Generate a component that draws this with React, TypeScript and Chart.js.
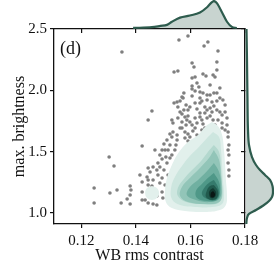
import React, { useEffect, useRef } from "react";
import { Chart, registerables } from "chart.js";
Chart.register(...registerables);

const FONT = "'Liberation Serif', 'DejaVu Serif', serif";
const INK = "#111111";

// Axis ticks
const xTicks = [0.12, 0.14, 0.16, 0.18];
const yTicks = [1.0, 1.5, 2.0, 2.5];
const xRange = [0.11, 0.18];
const yRange = [0.91, 2.5];

// Scatter: WB rms contrast vs max. brightness
const contrast = [
  0.1349, 0.1558, 0.1591, 0.1664, 0.165, 0.1701, 0.1697, 0.1606, 0.1613, 0.154,
  0.1554, 0.1697, 0.1646, 0.1657, 0.1683, 0.169, 0.1617, 0.1606, 0.1624, 0.1606,
  0.1606, 0.1617, 0.1635, 0.1646, 0.1686, 0.1697, 0.1576, 0.1569, 0.1606, 0.154,
  0.1551, 0.1562, 0.1573, 0.1635, 0.1642, 0.1708, 0.1719, 0.1679, 0.1617, 0.1459,
  0.1445, 0.1562, 0.1569, 0.1591, 0.1598, 0.1624, 0.1635, 0.1653, 0.1661, 0.1672,
  0.1679, 0.1686, 0.1697, 0.1708, 0.1716, 0.1532, 0.1536, 0.1554, 0.1569, 0.158,
  0.1587, 0.1598, 0.1606, 0.1617, 0.1624, 0.1642, 0.1646, 0.1661, 0.1672, 0.1683,
  0.1701, 0.1716, 0.1734, 0.1727, 0.1738, 0.1536, 0.1551, 0.1569, 0.158, 0.1591,
  0.1609, 0.1624, 0.1642, 0.1716, 0.1738, 0.1302, 0.132, 0.1247, 0.1379, 0.1382,
  0.1331, 0.1305, 0.1379, 0.1368, 0.1247, 0.1346, 0.1379, 0.1423, 0.1423, 0.1423,
  0.1423, 0.1514, 0.1532, 0.1551, 0.158, 0.1591, 0.1488, 0.1496, 0.1481, 0.1488,
  0.1514, 0.1525, 0.1532, 0.1445, 0.1452, 0.1463, 0.1441, 0.1445, 0.1481, 0.1496,
  0.1488, 0.1518, 0.1445, 0.1459, 0.1434, 0.1445, 0.1463, 0.1477, 0.1496, 0.1499,
  0.1477, 0.1503, 0.1507, 0.147, 0.1503, 0.1741, 0.1741, 0.1738, 0.1741, 0.1741,
  0.1738, 0.1525, 0.151, 0.1672, 0.1708, 0.1661, 0.1727, 0.1584, 0.1631, 0.1584,
  0.1653, 0.169, 0.1705, 0.1547, 0.1562, 0.1525, 0.1635, 0.1661, 0.1697, 0.1672,
  0.1591, 0.1635, 0.1653, 0.1554, 0.1576, 0.1727, 0.1734, 0.1598, 0.1617, 0.1496,
  0.1518, 0.1543, 0.1477, 0.1463, 0.1507, 0.1415,
];
const brightness = [
  2.312, 2.41, 2.443, 2.394, 2.361, 2.321, 2.231, 2.223, 2.19, 2.149,
  2.158, 2.166, 2.133, 2.117, 2.125, 2.109, 2.109, 2.1, 2.06, 2.035,
  2.011, 1.994, 1.986, 1.978, 1.978, 1.978, 1.978, 1.946, 1.954, 1.897,
  1.905, 1.913, 1.937, 1.937, 1.913, 1.937, 1.921, 1.905, 1.897, 1.831,
  1.758, 1.823, 1.807, 1.84, 1.864, 1.848, 1.815, 1.864, 1.84, 1.856,
  1.823, 1.872, 1.84, 1.823, 1.799, 1.758, 1.734, 1.774, 1.742, 1.782,
  1.758, 1.742, 1.717, 1.774, 1.734, 1.758, 1.725, 1.774, 1.791, 1.758,
  1.758, 1.734, 1.774, 1.676, 1.66, 1.66, 1.636, 1.693, 1.66, 1.644,
  1.668, 1.636, 1.676, 1.693, 1.619, 1.456, 1.383, 1.204, 1.22, 1.187,
  1.187, 1.163, 1.146, 1.114, 1.081, 1.081, 1.073, 1.252, 1.171, 1.106,
  1.546, 1.595, 1.619, 1.595, 1.611, 1.587, 1.473, 1.44, 1.407, 1.375,
  1.407, 1.448, 1.473, 1.367, 1.334, 1.375, 1.293, 1.269, 1.31, 1.285,
  1.244, 1.31, 1.228, 1.22, 1.106, 1.081, 1.073, 1.065, 1.171, 1.122,
  1.138, 1.562, 1.513, 1.513, 1.35, 1.554, 1.473, 1.407, 1.35, 1.301,
  1.513, 1.644, 1.456, 2.043, 2.019, 1.962, 1.88, 1.88, 2.027, 1.717,
  1.693, 1.717, 1.66, 1.554, 1.693, 1.554, 1.897, 1.921, 1.913, 1.962,
  1.791, 1.782, 1.815, 1.864, 1.84, 1.823, 1.717, 1.619, 1.693, 1.513,
  1.513, 1.513, 1.35, 1.269, 1.228, 1.31,
];

// KDE contour levels (outer -> inner), [contrast, brightness]
const kdeLevel1 = [
  [0.1679, 1.742], [0.1701, 1.709], [0.1716, 1.636], [0.1723, 1.513], [0.1727, 1.391],
  [0.173, 1.269], [0.1734, 1.146], [0.173, 1.065], [0.1708, 1.024], [0.1653, 1.008],
  [0.158, 1.016], [0.1532, 1.04], [0.151, 1.089], [0.1507, 1.187], [0.1514, 1.285],
  [0.1532, 1.391], [0.1558, 1.497], [0.1591, 1.579], [0.1628, 1.636], [0.1657, 1.709],
];
const kdeIsland = [
  [0.1459, 1.22], [0.1477, 1.204], [0.1485, 1.163], [0.1477, 1.122],
  [0.1459, 1.106], [0.1441, 1.122], [0.1434, 1.163], [0.1441, 1.204],
];
const kdeLevel2 = [
  [0.1683, 1.66], [0.1705, 1.619], [0.1712, 1.513], [0.1716, 1.391], [0.1719, 1.269],
  [0.1723, 1.146], [0.1716, 1.073], [0.1679, 1.049], [0.1617, 1.049], [0.1562, 1.065],
  [0.1532, 1.114], [0.1529, 1.204], [0.1543, 1.293], [0.1569, 1.383], [0.1598, 1.464],
  [0.1631, 1.538], [0.1661, 1.611],
];
const kdeLevel3 = [
  [0.1686, 1.554], [0.1705, 1.497], [0.1712, 1.367], [0.1716, 1.228], [0.1716, 1.122],
  [0.1694, 1.073], [0.1635, 1.073], [0.1584, 1.089], [0.1554, 1.138], [0.1554, 1.204],
  [0.1576, 1.277], [0.1606, 1.35], [0.1639, 1.424], [0.1664, 1.497],
];
const kdeLevel4 = [
  [0.1686, 1.513], [0.1705, 1.432], [0.1712, 1.31], [0.1716, 1.171], [0.1705, 1.089],
  [0.1653, 1.073], [0.1591, 1.089], [0.1562, 1.138], [0.1569, 1.212], [0.1598, 1.285],
  [0.1635, 1.367], [0.1668, 1.448],
];
const kdeLevel5 = [
  [0.1686, 1.407], [0.1705, 1.334], [0.1712, 1.228], [0.1708, 1.122], [0.1672, 1.089],
  [0.162, 1.106], [0.1587, 1.146], [0.1598, 1.212], [0.1628, 1.269], [0.1661, 1.342],
];
const kdeLevel6 = [
  [0.1686, 1.326], [0.1705, 1.252], [0.1708, 1.163], [0.1697, 1.106], [0.1661, 1.098],
  [0.1624, 1.122], [0.162, 1.179], [0.1642, 1.236], [0.1668, 1.293],
];
const kdeLevel7 = [
  [0.1686, 1.269], [0.1701, 1.212], [0.1705, 1.146], [0.169, 1.106], [0.1661, 1.114],
  [0.1642, 1.155], [0.1653, 1.212], [0.1672, 1.252],
];
const kdeLevel8 = [
  [0.1686, 1.228], [0.1701, 1.179], [0.1697, 1.122], [0.1679, 1.106], [0.1657, 1.13],
  [0.1661, 1.187], [0.1672, 1.22],
];
const kdeLevel9 = [
  [0.1683, 1.204], [0.1694, 1.171], [0.169, 1.13], [0.1675, 1.122], [0.1668, 1.155],
  [0.1672, 1.187],
];
const kdeLevel10 = [
  [0.1683, 1.179], [0.169, 1.155], [0.1686, 1.13], [0.1675, 1.13], [0.1675, 1.163],
];
const kdeLevels = [kdeLevel1, kdeLevel2, kdeLevel3, kdeLevel4, kdeLevel5, kdeLevel6, kdeLevel7, kdeLevel8, kdeLevel9, kdeLevel10];
const kdeColors = ["#e2f0ec", "#cde6df", "#b3d8ce", "#92c5b8", "#70b0a1", "#4f9888", "#357a6c", "#215a4d", "#123a31", "#0a1714"];

// Marginal densities (relative units)
const topX = [0.139, 0.1459, 0.149, 0.1514, 0.1532, 0.1562, 0.1598, 0.1635, 0.1661, 0.1679, 0.1686, 0.1697, 0.1716, 0.1734, 0.1752, 0.177];
const topDensity = [0, 0.8, 2, 3, 6, 10, 12, 15, 20, 25, 26, 24, 15, 6, 1, 0];
const rightY = [2.5, 2.247, 1.921, 1.676, 1.554, 1.456, 1.391, 1.35, 1.31, 1.269, 1.22, 1.171, 1.13, 1.098, 1.065, 1.024, 0.992, 0.959, 0.91];
const rightDensity = [0.5, 1, 1.5, 2, 3, 6, 10, 14, 19, 24, 26.5, 27, 26, 23, 18, 10, 3, 1, 0.3];

const MARGIN_FILL = "#c8d4d0";
const MARGIN_LINE = "#2e5c4e";

const closed = (pts: number[][]) => [...pts.map(([x, y]) => ({ x, y })), { x: pts[0][0], y: pts[0][1] }];

export default function App() {
  const mainRef = useRef<HTMLCanvasElement>(null);
  const topRef = useRef<HTMLCanvasElement>(null);
  const rightRef = useRef<HTMLCanvasElement>(null);

  useEffect(() => {
    const setTicks = (vals: number[]) => (s: any) => {
      s.ticks = vals.map((v) => ({ value: v }));
    };
    const scatterPts = contrast.map((x, i) => ({ x, y: brightness[i] }));
    const kdeSets: any[] = kdeLevels.map((lv, i) => ({
      type: "line",
      data: closed(lv),
      fill: "shape",
      backgroundColor: kdeColors[i],
      borderWidth: 0,
      borderColor: "rgba(0,0,0,0)",
      pointRadius: 0,
      tension: 0.4,
      order: 50 - i,
    }));
    kdeSets.push({
      type: "line",
      data: closed(kdeIsland),
      fill: "shape",
      backgroundColor: kdeColors[0],
      borderWidth: 0,
      borderColor: "rgba(0,0,0,0)",
      pointRadius: 0,
      tension: 0.4,
      order: 51,
    });

    const main = new Chart(mainRef.current!, {
      type: "scatter",
      data: {
        datasets: [
          {
            type: "scatter",
            data: scatterPts,
            backgroundColor: "#7f7f7f",
            borderWidth: 0,
            pointRadius: 1.8,
            order: 100,
          } as any,
          ...kdeSets,
        ],
      },
      options: {
        responsive: false,
        animation: false,
        events: [],
        layout: { padding: { top: 29, right: 29, left: 0, bottom: 0 } },
        plugins: { legend: { display: false }, tooltip: { enabled: false } },
        scales: {
          x: {
            type: "linear",
            position: "bottom",
            min: xRange[0],
            max: xRange[1],
            afterBuildTicks: setTicks(xTicks),
            afterFit: (s: any) => { s.height = 50; },
            ticks: {
              callback: (v: any) => Number(v).toFixed(2),
              font: { family: FONT, size: 15 },
              color: INK,
              padding: 4,
              maxRotation: 0,
              autoSkip: false,
            },
            grid: { drawOnChartArea: false, drawTicks: true, tickLength: 4, color: INK, lineWidth: 1.2 },
            border: { color: INK, width: 1.3 },
            title: { display: true, text: "WB rms contrast", font: { family: FONT, size: 16 }, color: INK, padding: { top: 0, bottom: 9 } },
          },
          y: {
            type: "linear",
            position: "left",
            min: yRange[0],
            max: yRange[1],
            afterBuildTicks: setTicks(yTicks),
            afterFit: (s: any) => { s.width = 54; },
            ticks: {
              callback: (v: any) => Number(v).toFixed(1),
              font: { family: FONT, size: 15 },
              color: INK,
              padding: 3,
              autoSkip: false,
            },
            grid: { drawOnChartArea: false, drawTicks: true, tickLength: 4, color: INK, lineWidth: 1.2 },
            border: { color: INK, width: 1.3 },
            title: { display: true, text: "max. brightness", font: { family: FONT, size: 16 }, color: INK, padding: { top: 10, bottom: 0 } },
          },
          x2: {
            type: "linear",
            position: "top",
            min: xRange[0],
            max: xRange[1],
            afterBuildTicks: setTicks(xTicks),
            afterFit: (s: any) => { s.height = 0; },
            ticks: { display: false },
            grid: { drawOnChartArea: false, drawTicks: true, tickLength: -4, color: INK, lineWidth: 1.2 },
            border: { color: INK, width: 1.3 },
          },
          y2: {
            type: "linear",
            position: "right",
            min: yRange[0],
            max: yRange[1],
            afterBuildTicks: setTicks(yTicks),
            afterFit: (s: any) => { s.width = 0; },
            ticks: { display: false },
            grid: { drawOnChartArea: false, drawTicks: true, tickLength: -4, color: INK, lineWidth: 1.2 },
            border: { color: INK, width: 1.3 },
          },
        } as any,
      },
    });

    const top = new Chart(topRef.current!, {
      type: "line",
      data: {
        datasets: [
          {
            data: topX.map((x, i) => ({ x, y: topDensity[i] })),
            fill: "origin",
            backgroundColor: MARGIN_FILL,
            borderColor: MARGIN_LINE,
            borderWidth: 2.2,
            pointRadius: 0,
            cubicInterpolationMode: "monotone",
            clip: false,
          } as any,
        ],
      },
      options: {
        responsive: false,
        animation: false,
        events: [],
        layout: { padding: 0 },
        plugins: { legend: { display: false }, tooltip: { enabled: false } },
        scales: {
          x: { type: "linear", min: xRange[0], max: xRange[1], display: false },
          y: { type: "linear", min: -1, max: 27, display: false },
        },
      },
    });

    const right = new Chart(rightRef.current!, {
      type: "line",
      data: {
        datasets: [
          {
            data: rightY.map((y, i) => ({ x: rightDensity[i], y })),
            fill: "origin",
            backgroundColor: MARGIN_FILL,
            borderColor: MARGIN_LINE,
            borderWidth: 2.2,
            pointRadius: 0,
            cubicInterpolationMode: "monotone",
            clip: false,
          } as any,
        ],
      },
      options: {
        indexAxis: "y",
        responsive: false,
        animation: false,
        events: [],
        layout: { padding: 0 },
        plugins: { legend: { display: false }, tooltip: { enabled: false } },
        scales: {
          x: { type: "linear", min: -1, max: 28, display: false },
          y: { type: "linear", min: yRange[0], max: yRange[1], display: false },
        },
      },
    });

    return () => {
      main.destroy();
      top.destroy();
      right.destroy();
    };
  }, []);

  return (
    <div style={{ position: "fixed", left: 0, top: 0, width: 274, height: 274, background: "#fff" }}>
      <canvas ref={mainRef} width={274} height={274} style={{ position: "absolute", left: 0, top: 0 }} />
      <canvas ref={topRef} width={191} height={29} style={{ position: "absolute", left: 54, top: 0 }} />
      <canvas ref={rightRef} width={29} height={195} style={{ position: "absolute", left: 245, top: 29 }} />
      <div
        style={{
          position: "absolute",
          left: 60,
          top: 38,
          fontFamily: FONT,
          fontSize: 18,
          lineHeight: "20px",
          color: INK,
        }}
      >
        (d)
      </div>
    </div>
  );
}
